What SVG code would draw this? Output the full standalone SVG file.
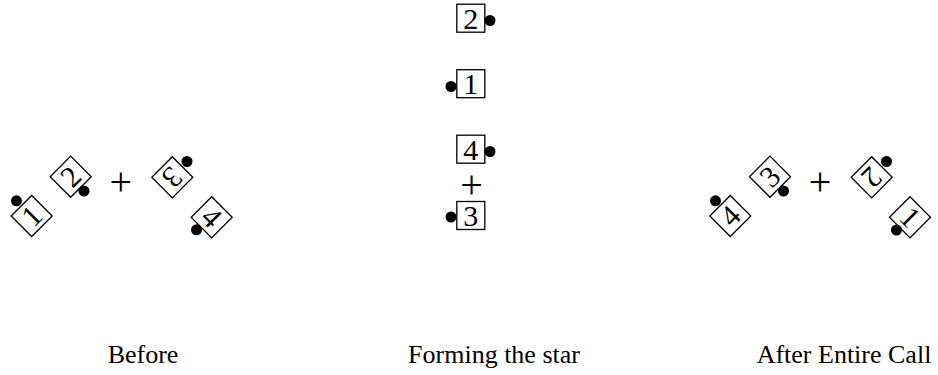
<svg xmlns="http://www.w3.org/2000/svg" width="938" height="375" viewBox="0 0 938 375">
<style>
.box{fill:#fff;stroke:#000;stroke-width:1.3}
.num{font-family:"Liberation Serif","DejaVu Serif",serif;font-size:30px;text-anchor:middle;fill:#000}
.plus{font-family:"Liberation Serif","DejaVu Serif",serif;font-size:40px;text-anchor:middle;fill:#000}
.lbl{font-family:"Liberation Serif","DejaVu Serif",serif;font-size:26px;text-anchor:middle;fill:#000}
.dot{fill:#000}
</style>
<defs>
<rect id="sq" class="box" x="-14.5" y="-14.5" width="29" height="29"/>
<rect id="sqm" class="box" x="-14" y="-14" width="28" height="28"/>
</defs>
<rect width="938" height="375" fill="#fff"/>
<g id="connectors"/>
<!-- Before -->
<g id="before-1"><g transform="translate(31.7,216) rotate(-45)"><use href="#sq"/><text class="num" x="0" y="10">1</text></g><circle class="dot" cx="16.5" cy="200.8" r="5.5"/></g>
<g id="before-2"><g transform="translate(70.7,176.7) rotate(-45)"><use href="#sq"/><text class="num" x="0" y="10">2</text></g><circle class="dot" cx="84" cy="191" r="5.5"/></g>
<text class="plus" x="120.7" y="195">+</text>
<g id="before-3"><g transform="translate(172.3,177.3) rotate(135)"><use href="#sq"/><text class="num" x="0" y="10">3</text></g><circle class="dot" cx="187" cy="161.5" r="5.5"/></g>
<g id="before-4"><g transform="translate(211.7,217.3) rotate(45)"><use href="#sq"/><text class="num" x="0" y="10">4</text></g><circle class="dot" cx="196.5" cy="229.8" r="5.5"/></g>
<!-- Forming the star -->
<g id="star-2"><g transform="translate(470.8,18.2)"><use href="#sqm"/><text class="num" x="0" y="10.5">2</text></g><circle class="dot" cx="490" cy="20.5" r="5.5"/></g>
<g id="star-1"><g transform="translate(470.8,83.7)"><use href="#sqm"/><text class="num" x="0" y="10.5">1</text></g><circle class="dot" cx="451" cy="86.5" r="5.5"/></g>
<g id="star-4"><g transform="translate(470.8,149.2)"><use href="#sqm"/><text class="num" x="0" y="10.5">4</text></g><circle class="dot" cx="490" cy="151.5" r="5.5"/></g>
<text class="plus" x="471.5" y="198">+</text>
<g id="star-3"><g transform="translate(470.8,215.5)"><use href="#sqm"/><text class="num" x="0" y="10.5">3</text></g><circle class="dot" cx="451" cy="217" r="5.5"/></g>
<!-- After -->
<g id="after-4"><g transform="translate(730.3,216) rotate(-45)"><use href="#sq"/><text class="num" x="0" y="10">4</text></g><circle class="dot" cx="715.5" cy="200.8" r="5.5"/></g>
<g id="after-3"><g transform="translate(770,176.7) rotate(-45)"><use href="#sq"/><text class="num" x="0" y="10">3</text></g><circle class="dot" cx="783.5" cy="191" r="5.5"/></g>
<text class="plus" x="820" y="195">+</text>
<g id="after-2"><g transform="translate(871.7,177.3) rotate(135)"><use href="#sq"/><text class="num" x="0" y="10">2</text></g><circle class="dot" cx="886.5" cy="161.5" r="5.5"/></g>
<g id="after-1"><g transform="translate(910,217.3) rotate(45)"><use href="#sq"/><text class="num" x="0" y="10">1</text></g><circle class="dot" cx="896.5" cy="230" r="5.5"/></g>
<!-- Labels -->
<text class="lbl" x="143" y="363">Before</text>
<text class="lbl" x="494" y="363">Forming the star</text>
<text class="lbl" x="844" y="363">After Entire Call</text>
</svg>
